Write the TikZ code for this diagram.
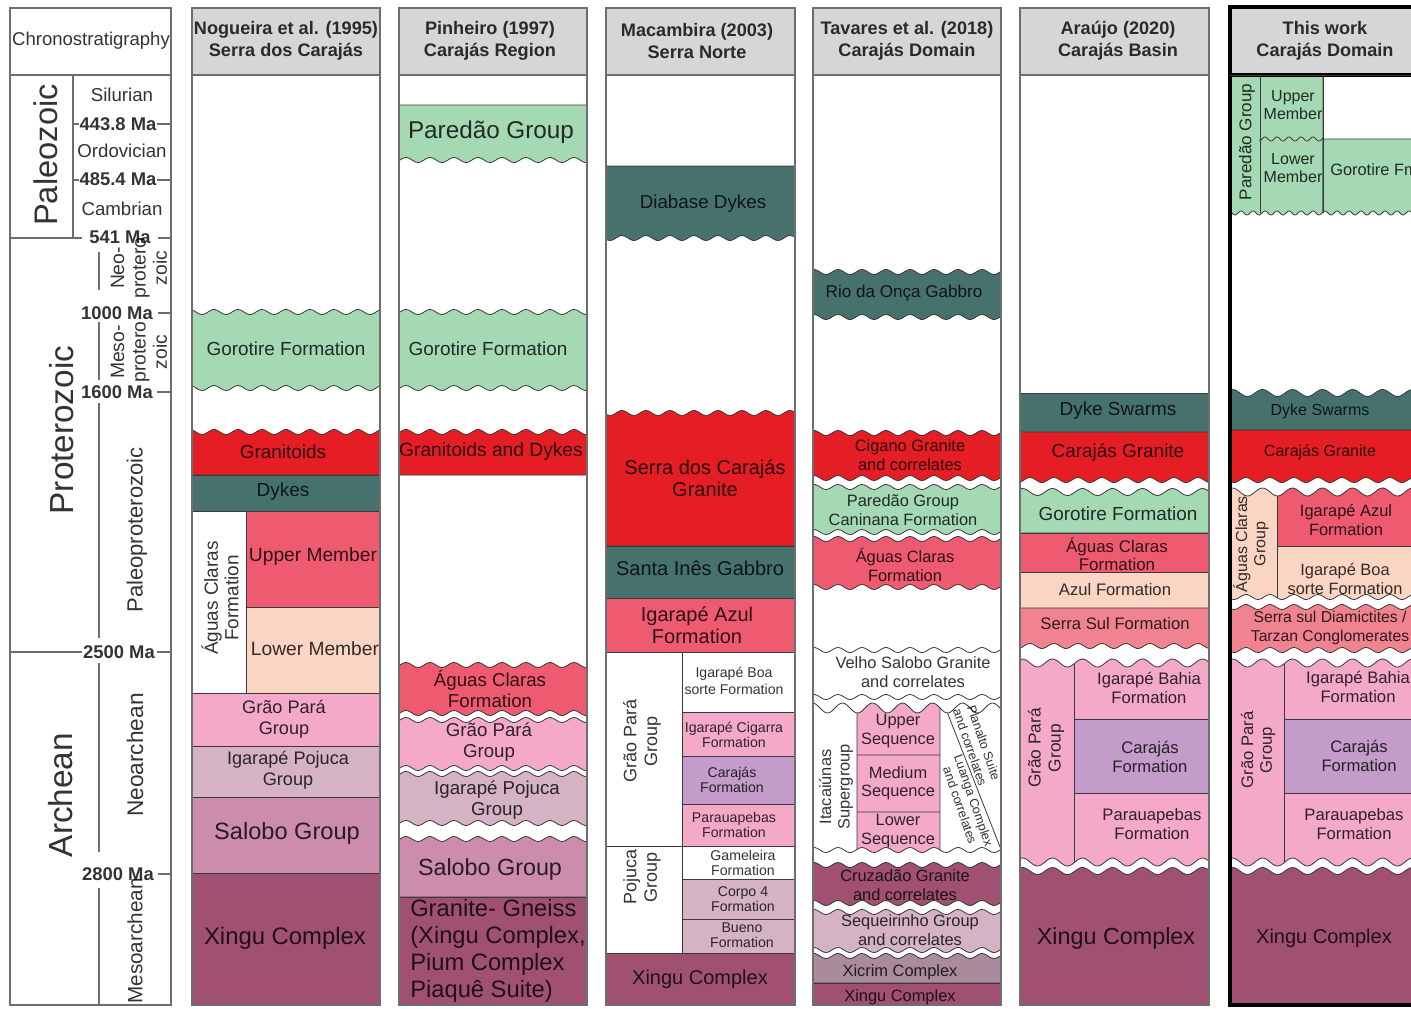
\documentclass[tikz,border=0pt]{standalone}
\usepackage{fontspec}
\setmainfont{Liberation Sans}
\definecolor{hdr}{HTML}{D6D6D7}
\definecolor{gor}{HTML}{A5D9B4}
\definecolor{gran}{HTML}{E51E26}
\definecolor{dyk}{HTML}{46716D}
\definecolor{acl}{HTML}{EE5A6F}
\definecolor{pch}{HTML}{FBD5C3}
\definecolor{gpa}{HTML}{F4A9C9}
\definecolor{cjs}{HTML}{C49CC9}
\definecolor{poj}{HTML}{D6B3C4}
\definecolor{sal}{HTML}{CC8DAC}
\definecolor{xin}{HTML}{A05171}
\definecolor{ssl}{HTML}{F0838F}
\definecolor{xic}{HTML}{A98B9B}
\definecolor{ln}{HTML}{3A3A3A}
\definecolor{colb}{HTML}{6E6E6E}
% wavy path pieces
\newcommand{\wv}[4]{-- plot[domain=#1:#2,samples=90,variable=\t] (\t,{#3+#4*sin(15*(\t-700))})}
\newcommand{\wb}[4]{-- plot[domain=#1:#2,samples=90,variable=\t] (\t,{#3+#4*sin(12*(\t-700))})}
\newcommand{\ws}[4]{-- plot[domain=#1:#2,samples=120,variable=\t] (\t,{#3+#4*sin(30*(\t-1100))})}
% layers: x1 x2 ytop ybot colour
\newcommand{\LSS}[5]{\filldraw[ly,fill=#5] (#1,#3) rectangle (#2,#4);}
\newcommand{\LWS}[5]{\filldraw[ly,fill=#5] (#1,#4) -- (#1,#3) \wv{#1}{#2}{#3}{2.5} -- (#2,#4) -- cycle;}
\newcommand{\LSW}[5]{\filldraw[ly,fill=#5] (#1,#3) -- (#2,#3) -- (#2,#4) \wv{#2}{#1}{#4}{2.5} -- cycle;}
\newcommand{\LWW}[5]{\filldraw[ly,fill=#5] (#1,#4) -- (#1,#3) \wv{#1}{#2}{#3}{2.5} -- (#2,#4) \wv{#2}{#1}{#4}{2.5} -- cycle;}
\newcommand{\LBS}[5]{\filldraw[ly,fill=#5] (#1,#4) -- (#1,#3) \wb{#1}{#2}{#3}{3.5} -- (#2,#4) -- cycle;}
% Grao Para block: x1 xs x2
\newcommand{\GPB}[3]{%
\begin{scope}
\clip (#1,862) -- (#1,663) \wb{#1}{#3}{663}{4} -- (#3,862) \wb{#3}{#1}{862}{4} -- cycle;
\fill[gpa] (#1,640) rectangle (#3,880);
\filldraw[ly,fill=cjs] (#2,719) rectangle (#3+10,793);
\draw[ly] (#2,640) -- (#2,880);
\end{scope}
\draw[ly] (#1,862) -- (#1,663) \wb{#1}{#3}{663}{4} -- (#3,862) \wb{#3}{#1}{862}{4} -- cycle;}
\begin{document}
\begin{tikzpicture}[x=0.75pt,y=-0.75pt,
 ly/.style={draw=ln,line width=0.6pt},
 cb/.style={draw=colb,line width=0.8pt},
 tx/.style={inner sep=0pt,align=center,text opacity=0.8},
 fs/.style 2 args={font=\fontsize{#1}{#2}\selectfont},
 fsb/.style 2 args={font=\fontsize{#1}{#2}\selectfont\bfseries},
]
\useasboundingbox (0,0) rectangle (1411,1008);
\clip (0,0) rectangle (1411,1008);
\fill[white] (0,0) rectangle (1411,1008);

% ================= Chronostratigraphy =================
\draw[cb] (10,8) rectangle (171,1005);
\draw[cb] (10,75) -- (171,75);
\draw[cb] (73,75) -- (73,238);
\draw[cb] (10,238) -- (82,238) (158,238) -- (171,238);
\draw[cb] (73,124) -- (79,124) (157,124) -- (171,124);
\draw[cb] (73,180) -- (79,180) (157,180) -- (171,180);
\draw[cb] (158,313) -- (171,313) (157,392) -- (171,392) (158,874) -- (171,874);
\draw[cb] (10,652) -- (82,652) (157,652) -- (171,652);
\draw[cb] (99,252) -- (99,290) (99,322) -- (99,380) (99,403) -- (99,638)
          (99,663) -- (99,852) (99,888) -- (99,1005);
\node[tx,fs={13.9}{16}] (chr) at (91,41) {Chronostratigraphy};
\node[tx,fs={24.5}{28},rotate=90] (pal) at (46,155) {Paleozoic};
\node[tx,fs={14}{16}] (sil) at (122,95) {Silurian};
\node[tx,fs={14}{16}] (ord) at (122,151) {Ordovician};
\node[tx,fs={14}{16}] (cam) at (122,209) {Cambrian};
\node[tx,fsb={13.8}{16}] (m443) at (118,124) {443.8 Ma};
\node[tx,fsb={13.8}{16}] (m485) at (118,179) {485.4 Ma};
\node[tx,fsb={13.8}{16}] (m541) at (120,237) {541 Ma};
\node[tx,fsb={13.8}{16}] (m1000) at (117,313) {1000 Ma};
\node[tx,fsb={13.8}{16}] (m1600) at (117,392) {1600 Ma};
\node[tx,fsb={13.8}{16}] (m2500) at (119,652) {2500 Ma};
\node[tx,fsb={13.8}{16}] (m2800) at (118,874) {2800 Ma};
\node[tx,fs={14.5}{16},rotate=90] (neo) at (139,268) {Neo-\\protero\\zoic};
\node[tx,fs={14.5}{16},rotate=90] (meso) at (139,352) {Meso-\\protero\\zoic};
\node[tx,fs={25}{28},rotate=90] (pro) at (62,430) {Proterozoic};
\node[tx,fs={16.5}{18},rotate=90] (ppz) at (137,530) {Paleoproterozoic};
\node[tx,fs={25}{28},rotate=90] (arc) at (61,795) {Archean};
\node[tx,fs={17}{19},rotate=90] (nar) at (135,755) {Neoarchean};
\node[tx,fs={15.5}{18},rotate=90] (mar) at (135,941) {Mesoarchean};

% ================= Column 1: Nogueira =================
\LWW{192}{380}{312}{388}{gor}
\LWS{192}{380}{432}{475}{gran}
\LSS{192}{380}{475}{511}{dyk}
\LSS{192}{246}{511}{693}{white}
\LSS{246}{380}{511}{607}{acl}
\LSS{246}{380}{607}{693}{pch}
\LSS{192}{380}{693}{746}{gpa}
\LSS{192}{380}{746}{797}{poj}
\LSS{192}{380}{797}{873}{sal}
\LSS{192}{380}{873}{1005}{xin}
\draw[cb] (192,75) rectangle (380,1005);
\filldraw[cb,fill=hdr] (192,8) rectangle (380,75);
\node[tx,fsb={13.6}{16.5}] (h1) at (286,41) {Nogueira et al. (1995)\\Serra dos Carajás};
\node[tx,fs={14.2}{16}] (n1gor) at (286,349) {Gorotire Formation};
\node[tx,fs={14.2}{16}] (n1gra) at (283,452) {Granitoids};
\node[tx,fs={14.2}{16}] (n1dyk) at (283,492) {Dykes};
\node[tx,fs={14.2}{15.5},rotate=90] (n1acf) at (220,598) {Águas Claras\\Formation};
\node[tx,fs={14.4}{16}] (n1upm) at (313,557) {Upper Member};
\node[tx,fs={14.4}{16}] (n1lwm) at (315,649) {Lower Member};
\node[tx,fs={13.6}{15.8}] (n1gpg) at (284,719) {Grão Pará\\Group};
\node[tx,fs={13.6}{15.8}] (n1ipg) at (288,770) {Igarapé Pojuca\\Group};
\node[tx,fs={17.7}{20}] (n1sal) at (287,833) {Salobo Group};
\node[tx,fs={17.9}{20}] (n1xin) at (285,938) {Xingu Complex};

% ================= Column 2: Pinheiro =================
\LSW{399}{587}{105}{160}{gor}
\LWW{399}{587}{312}{388}{gor}
\LWS{399}{587}{432}{475}{gran}
\LWW{399}{587}{665}{713}{acl}
\LWW{399}{587}{720}{768}{gpa}
\LWW{399}{587}{774}{823}{poj}
\LWS{399}{587}{839}{897}{sal}
\LSS{399}{587}{897}{1005}{xin}
\draw[cb] (399,75) rectangle (587,1005);
\filldraw[cb,fill=hdr] (399,8) rectangle (587,75);
\node[tx,fsb={13.6}{16.5}] (h2) at (490,41) {Pinheiro (1997)\\Carajás Region};
\node[tx,fs={18.2}{20}] (n2par) at (491,132) {Paredão Group};
\node[tx,fs={14.2}{16}] (n2gor) at (488,349) {Gorotire Formation};
\node[tx,fs={14.4}{16}] (n2gra) at (491,452) {Granitoids and Dykes};
\node[tx,fs={14}{15.5}] (n2acf) at (490,689) {Águas Claras\\Formation};
\node[tx,fs={14}{15.5}] (n2gpg) at (489,742) {Grão Pará\\Group};
\node[tx,fs={14}{15.5}] (n2ipg) at (497,800) {Igarapé Pojuca\\Group};
\node[tx,fs={17.5}{20}] (n2sal) at (490,869) {Salobo Group};
\node[tx,fs={17.8}{20.3},align=left,anchor=west] (n2gg) at (410,951) {Granite- Gneiss\\(Xingu Complex,\\Pium Complex\\Piaquê Suite)};

% ================= Column 3: Macambira =================
\LSW{606}{795}{166}{238}{dyk}
\LWS{606}{795}{413}{546}{gran}
\LSS{606}{795}{546}{598}{dyk}
\LSS{606}{795}{598}{652}{acl}
\LSS{606}{682}{652}{846}{white}
\LSS{682}{795}{652}{712}{white}
\LSS{682}{795}{712}{756}{gpa}
\LSS{682}{795}{756}{804}{cjs}
\LSS{682}{795}{804}{846}{gpa}
\LSS{606}{682}{846}{953}{white}
\LSS{682}{795}{846}{879}{white}
\LSS{682}{795}{879}{919}{poj}
\LSS{682}{795}{919}{953}{poj}
\LSS{606}{795}{953}{1005}{xin}
\draw[cb] (606,75) rectangle (795,1005);
\filldraw[cb,fill=hdr] (606,8) rectangle (795,75);
\node[tx,fsb={13.6}{16.5}] (h3) at (697,41) {Macambira (2003)\\Serra Norte};
\node[tx,fs={14.1}{16}] (n3dia) at (703,204) {Diabase Dykes};
\node[tx,fs={15}{16.5}] (n3sdc) at (705,478) {Serra dos Carajás\\Granite};
\node[tx,fs={15}{16}] (n3sig) at (700,568) {Santa Inês Gabbro};
\node[tx,fs={15}{16.5}] (n3iaf) at (697,625) {Igarapé Azul\\Formation};
\node[tx,fs={13.5}{15.5},rotate=90] (n3gpg) at (642,741) {Grão Pará\\Group};
\node[tx,fs={13.5}{15.5},rotate=90] (n3pjg) at (642,877) {Pojuca\\Group};
\node[tx,fs={10.6}{12.5}] (n3ibs) at (734,681) {Igarapé Boa\\sorte Formation};
\node[tx,fs={10.6}{11.5}] (n3icf) at (734,735) {Igarapé Cigarra\\Formation};
\node[tx,fs={10.6}{11.5}] (n3cjf) at (732,780) {Carajás\\Formation};
\node[tx,fs={10.6}{11.5}] (n3ppf) at (734,825) {Parauapebas\\Formation};
\node[tx,fs={10.6}{11.5}] (n3gmf) at (743,863) {Gameleira\\Formation};
\node[tx,fs={10.6}{11.5}] (n3c4f) at (743,899) {Corpo 4\\Formation};
\node[tx,fs={10.6}{11.5}] (n3bnf) at (742,935) {Bueno\\Formation};
\node[tx,fs={15}{16}] (n3xin) at (700,979) {Xingu Complex};

% ================= Column 4: Tavares =================
\LWW{813}{1001}{272}{317}{dyk}
\LWW{813}{1001}{433}{478}{gran}
\LWW{813}{1001}{487}{532}{gor}
\LWW{813}{1001}{539}{587}{acl}
\LWW{813}{1001}{650}{697}{white}
\begin{scope}
\clip (813,850) -- (813,708) \wb{813}{1001}{708}{5} -- (1001,850) \wv{1001}{813}{850}{2.5} -- cycle;
\fill[white] (813,690) rectangle (1001,870);
\fill[gpa] (857,690) rectangle (940,870);
\draw[ly] (857,690) -- (857,870) (940,690) -- (940,870)
          (857,755) -- (940,755) (857,812) -- (940,812)
          (942,699) -- (1002,852);
\end{scope}
\draw[ly] (813,850) -- (813,708) \wb{813}{1001}{708}{5} -- (1001,850) \wv{1001}{813}{850}{2.5} -- cycle;
\LWW{813}{1001}{865}{903}{xin}
\LWW{813}{1001}{912}{950}{poj}
\LWS{813}{1001}{956}{983}{xic}
\LSS{813}{1001}{983}{1005}{xin}
\draw[cb] (813,75) rectangle (1001,1005);
\filldraw[cb,fill=hdr] (813,8) rectangle (1001,75);
\node[tx,fsb={13.6}{16.5}] (h4) at (907,41) {Tavares et al. (2018)\\Carajás Domain};
\node[tx,fs={12.8}{14}] (n4rog) at (904,293) {Rio da Onça Gabbro};
\node[tx,fs={12.3}{13.8}] (n4cig) at (910,455) {Cigano Granite\\and correlates};
\node[tx,fs={12.3}{13.8}] (n4pcf) at (903,510) {Paredão Group\\Caninana Formation};
\node[tx,fs={12.3}{13.8}] (n4acf) at (905,565) {Águas Claras\\Formation};
\node[tx,fs={12.3}{13.8}] (n4vsg) at (913,672) {Velho Salobo Granite\\and correlates};
\node[tx,fs={12.3}{13.8},rotate=90] (n4its) at (836,787) {Itacaiúnas\\Supergroup};
\node[tx,fs={12.3}{13.8}] (n4ups) at (898,731) {Upper\\Sequence};
\node[tx,fs={12.3}{13.8}] (n4mds) at (898,783) {Medium\\Sequence};
\node[tx,fs={12.3}{13.8}] (n4lws) at (898,831) {Lower\\Sequence};
\node[tx,fs={9.5}{10.8},rotate=-71] (n4pla) at (977,745) {Planalto Suite\\and correlates};
\node[tx,fs={9.5}{10.8},rotate=-71] (n4lua) at (967,803) {Luanga Complex\\and correlates};
\node[tx,fs={12.3}{13.8}] (n4cru) at (905,885) {Cruzadão Granite\\and correlates};
\node[tx,fs={12.3}{13.8}] (n4seq) at (910,930) {Sequeirinho Group\\and correlates};
\node[tx,fs={12.3}{13.8}] (n4xic) at (900,972) {Xicrim Complex};
\node[tx,fs={12.3}{13.8}] (n4xin) at (900,997) {Xingu Complex};

% ================= Column 5: Araujo =================
\LSS{1020}{1209}{393}{432}{dyk}
\LSW{1020}{1209}{432}{480}{gran}
\LBS{1020}{1209}{492}{533}{gor}
\LSS{1020}{1209}{533}{572}{acl}
\LSS{1020}{1209}{572}{608}{pch}
\LSW{1020}{1209}{608}{646}{ssl}
\GPB{1020}{1074}{1209}
\LBS{1020}{1209}{871}{1005}{xin}
\draw[cb] (1020,75) rectangle (1209,1005);
\filldraw[cb,fill=hdr] (1020,8) rectangle (1209,75);
\node[tx,fsb={13.6}{16.5}] (h5) at (1118,41) {Araújo (2020)\\Carajás Basin};
\node[tx,fs={14.2}{16}] (n5dys) at (1118,411) {Dyke Swarms};
\node[tx,fs={14.2}{16}] (n5cjg) at (1118,452) {Carajás Granite};
\node[tx,fs={14.2}{16}] (n5gor) at (1118,514) {Gorotire Formation};
\node[tx,fs={12.7}{13.6}] (n5acf) at (1117,554) {Águas Claras\\Formation};
\node[tx,fs={12.5}{14}] (n5azf) at (1115,590) {Azul Formation};
\node[tx,fs={12.5}{14}] (n5ssf) at (1115,624) {Serra Sul Formation};
\node[tx,fs={13}{15},rotate=90] (n5gpg) at (1046,748) {Grão Pará\\Group};
\node[tx,fs={12.5}{14}] (n5ibf) at (1149,688) {Igarapé Bahia\\Formation};
\node[tx,fs={12.5}{14}] (n5cjf) at (1150,757) {Carajás\\Formation};
\node[tx,fs={12.5}{14}] (n5ppf) at (1152,824) {Parauapebas\\Formation};
\node[tx,fs={17.5}{20}] (n5xin) at (1116,938) {Xingu Complex};

% ================= Column 6: This work =================
\filldraw[ly,fill=gor] (1230,75) -- (1323,75) -- (1323,213) \ws{1323}{1230}{213}{2} -- cycle;
\filldraw[ly,fill=gor] (1323,139) -- (1420,139) -- (1420,213) \ws{1420}{1323}{213}{2} -- cycle;
\draw[ly] (1260,75) -- (1260,213) (1323,75) -- (1323,213);
\draw[ly] (1260,139) \ws{1260}{1323}{139}{2};
\LBS{1230}{1420}{393}{430}{dyk}
\LSW{1230}{1420}{430}{480}{gran}
\begin{scope}
\clip (1230,597) -- (1230,492) \wb{1230}{1420}{492}{4} -- (1420,597) \wv{1420}{1230}{597}{2.5} -- cycle;
\fill[pch] (1230,480) rectangle (1420,610);
\fill[acl] (1277,480) rectangle (1420,546);
\draw[ly] (1277,480) -- (1277,610) (1277,546) -- (1420,546);
\end{scope}
\draw[ly] (1230,597) -- (1230,492) \wb{1230}{1420}{492}{4} -- (1420,597) \wv{1420}{1230}{597}{2.5} -- cycle;
\LWW{1230}{1420}{607}{650}{ssl}
\GPB{1230}{1284}{1420}
\LBS{1230}{1420}{871}{1005}{xin}
\filldraw[draw=black,line width=2.4pt,fill=hdr] (1430,7) -- (1230,7) -- (1230,75) -- (1430,75);
\draw[line width=2.4pt] (1230,7) -- (1230,1005) -- (1430,1005);
\draw[ly] (1230,75) -- (1430,75);
\node[tx,fsb={13.6}{16.5}] (h6) at (1325,41) {This work\\Carajás Domain};
\node[tx,fs={12.8}{14},rotate=90] (n6pdg) at (1247,142) {Paredão Group};
\node[tx,fs={12}{13.5}] (n6upm) at (1293,105) {Upper\\Member};
\node[tx,fs={12}{13.5}] (n6lwm) at (1293,168) {Lower\\Member};
\node[tx,fs={12.3}{14},anchor=west] (n6gor) at (1330,170) {Gorotire Fm};
\node[tx,fs={12}{14}] (n6dys) at (1320,411) {Dyke Swarms};
\node[tx,fs={12}{14}] (n6cjg) at (1320,452) {Carajás Granite};
\node[tx,fs={12}{13.8},rotate=90] (n6acg) at (1251,544) {Águas Claras\\Group};
\node[tx,fs={12.3}{13.8}] (n6iaf) at (1346,520) {Igarapé Azul\\Formation};
\node[tx,fs={12.3}{13.8}] (n6ibs) at (1345,579) {Igarapé Boa\\sorte Formation};
\node[tx,fs={11.8}{13.8}] (n6ssd) at (1330,628) {Serra sul Diamictites /\\Tarzan Conglomerates};
\node[tx,fs={12.5}{14},rotate=90] (n6gpg) at (1258,750) {Grão Pará\\Group};
\node[tx,fs={12.5}{14}] (n6ibf) at (1358,687) {Igarapé Bahia\\Formation};
\node[tx,fs={12.5}{14}] (n6cjf) at (1359,756) {Carajás\\Formation};
\node[tx,fs={12.5}{14}] (n6ppf) at (1354,824) {Parauapebas\\Formation};
\node[tx,fs={15}{17}] (n6xin) at (1324,938) {Xingu Complex};
\end{tikzpicture}
\end{document}
